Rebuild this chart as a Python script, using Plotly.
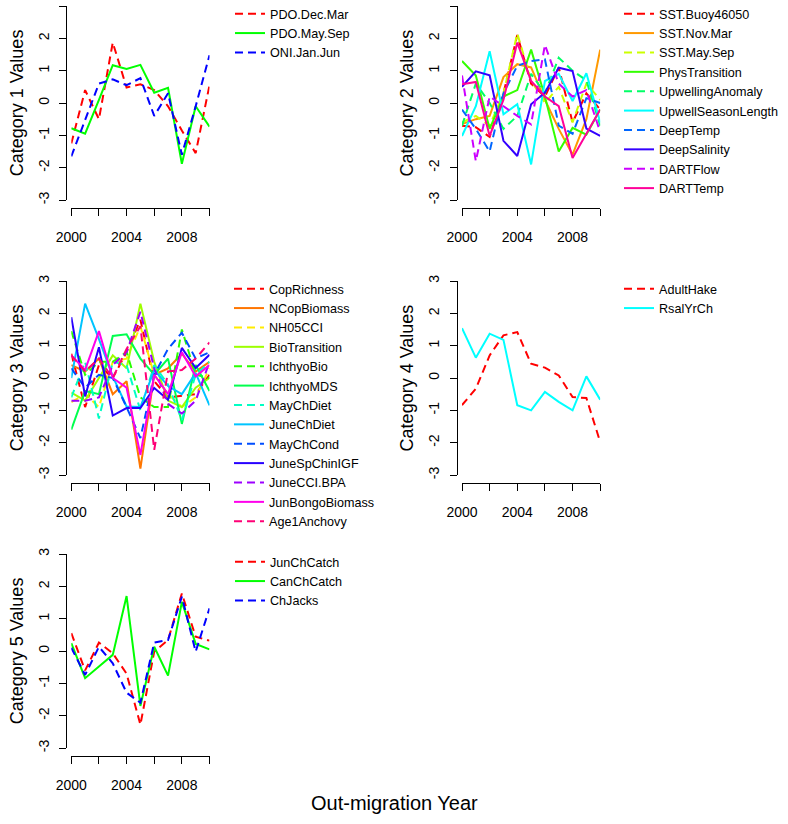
import plotly.graph_objects as go

years = list(range(2000, 2011))
x_tickvals = [2000, 2002, 2004, 2006, 2008, 2010]
x_ticktext = ["2000", "", "2004", "", "2008", ""]
y_tickvals = [-3, -2, -1, 0, 1, 2, 3]
y_ticktext = ["-3", "-2", "-1", "0", "1", "2", "3"]

# ---- Category 1 ----
cat1_names = ["PDO.Dec.Mar", "PDO.May.Sep", "ONI.Jan.Jun"]
pdo_dec_mar = [-1.25, 0.4, -0.5, 1.87, 0.48, 0.58, 0.4, -0.1, -0.85, -1.55, 0.55]
pdo_may_sep = [-0.78, -0.95, 0.1, 1.17, 1.05, 1.18, 0.32, 0.47, -1.88, -0.1, -0.73]
oni_jan_jun = [-1.65, -0.55, 0.6, 0.73, 0.55, 0.77, -0.4, 0.3, -1.6, -0.1, 1.48]
cat1_values = [pdo_dec_mar, pdo_may_sep, oni_jan_jun]
cat1_colors = ["#FF0000", "#00FF00", "#0000FF"]

# ---- Category 2 ----
cat2_names = ["SST.Buoy46050", "SST.Nov.Mar", "SST.May.Sep", "PhysTransition",
              "UpwellingAnomaly", "UpwellSeasonLength", "DeepTemp", "DeepSalinity",
              "DARTFlow", "DARTTemp"]
sst_buoy = [-0.7, -0.75, -1.05, 0.3, 2.1, 0.6, 0.2, 1.1, -0.6, 0.3, -0.2]
sst_nov_mar = [-0.65, -0.5, -0.4, 0.8, 1.2, 1.1, 0.1, -0.8, -1.6, -0.5, 1.65]
sst_may_sep = [-0.6, -0.4, -0.7, 0.3, 2.15, 0.7, 0.0, 0.5, -0.6, 0.6, 0.1]
phys_transition = [1.3, 0.85, -0.8, 0.2, 0.4, 1.65, 0.2, -1.5, -0.77, -0.98, -0.2]
upwelling_anomaly = [-0.7, 0.6, 0.0, -0.8, -0.4, 0.9, 0.3, 1.4, 1.0, 0.7, -0.7]
upwell_season_length = [-1.02, -0.1, 1.6, -0.35, -0.04, -1.9, 0.68, 0.9, 0.06, 0.92, -0.6]
deep_temp = [-0.2, -0.8, -1.5, 0.3, 1.15, 1.3, 1.35, -0.7, -0.95, 0.15, 0.0]
deep_salinity = [0.5, 0.98, 0.86, -1.17, -1.64, -0.04, 0.32, 1.09, 0.99, -0.79, -1.02]
dart_flow = [0.85, -1.8, 0.2, -0.1, -0.4, -0.66, 1.8, 0.6, 0.2, 0.4, -0.9]
dart_temp = [0.58, 0.65, -1.02, 0.1, 1.87, 0.68, 0.2, -0.1, -1.7, -0.97, -0.2]
cat2_values = [sst_buoy, sst_nov_mar, sst_may_sep, phys_transition, upwelling_anomaly,
               upwell_season_length, deep_temp, deep_salinity, dart_flow, dart_temp]
cat2_colors = ["#FF0000", "#FF9900", "#CCFF00", "#33FF00", "#00FF66",
               "#00FFFF", "#0066FF", "#3300FF", "#CC00FF", "#FF0099"]

# ---- Category 3 ----
cat3_names = ["CopRichness", "NCopBiomass", "NH05CCI", "BioTransition", "IchthyoBio",
              "IchthyoMDS", "MayChDiet", "JuneChDiet", "MayChCond", "JuneSpChinIGF",
              "JuneCCI.BPA", "JunBongoBiomass", "Age1Anchovy"]
cop_richness = [0.75, -0.9, 0.4, 0.0, 0.8, 1.8, -0.1, -0.6, -0.55, -0.5, 0.1]
ncop_biomass = [0.4, 0.2, 0.6, -0.5, -0.1, -2.8, 0.1, 0.3, 0.75, 0.2, 0.5]
nh05cci = [-0.75, -0.5, -0.9, 0.5, 0.6, 1.6, 0.1, -0.5, -0.9, -0.6, 0.3]
bio_transition = [-0.45, -0.7, 0.0, 0.7, 0.3, 2.3, 0.5, -0.7, -0.9, -0.3, 0.0]
ichthyo_bio = [1.45, 0.1, 0.5, 0.5, 0.8, -0.6, -0.9, -0.9, 1.5, 0.1, 0.0]
ichthyo_mds = [-1.6, -0.4, -0.5, 1.3, 1.35, 0.6, 0.1, 0.6, -1.42, 0.4, -0.4]
may_ch_diet = [-0.6, 0.5, -1.25, 0.5, 0.4, -1.0, 0.4, -0.2, -1.3, 0.1, 0.5]
june_ch_diet = [0.0, 2.3, 1.2, 0.05, -0.88, -0.9, 0.25, -0.25, -0.5, 0.15, -0.85]
may_ch_cond = [0.3, -0.3, 0.1, 0.0, -0.9, -1.86, 0.1, 0.9, 1.4, 0.6, 0.8]
june_sp_chin_igf = [1.88, -0.57, 0.95, -1.16, -0.93, -0.93, -0.31, -0.67, 0.93, 0.31, 0.72]
june_cci_bpa = [-0.7, -0.7, -0.6, 0.4, 0.8, 2.05, 0.3, -0.8, -1.1, -0.7, 0.5]
jun_bongo_biomass = [0.7, 0.25, 1.45, 0.0, -0.3, -2.38, 0.1, -0.5, 0.8, 0.05, 0.4]
age1_anchovy = [0.7, 0.2, 0.6, 0.0, 0.9, 1.6, -2.22, 0.2, 0.25, 0.6, 1.1]
cat3_values = [cop_richness, ncop_biomass, nh05cci, bio_transition, ichthyo_bio,
               ichthyo_mds, may_ch_diet, june_ch_diet, may_ch_cond, june_sp_chin_igf,
               june_cci_bpa, jun_bongo_biomass, age1_anchovy]
cat3_colors = ["#FF0000", "#FF7600", "#FFEC00", "#9DFF00", "#27FF00", "#00FF4E",
               "#00FFC4", "#00C4FF", "#004EFF", "#2700FF", "#9D00FF", "#FF00EC", "#FF0076"]

# ---- Category 4 ----
cat4_names = ["AdultHake", "RsalYrCh"]
adult_hake = [-0.84, -0.33, 0.7, 1.32, 1.42, 0.44, 0.32, 0.08, -0.59, -0.62, -1.98]
rsal_yr_ch = [1.54, 0.63, 1.37, 1.18, -0.84, -1.0, -0.43, -0.74, -1.0, 0.05, -0.67]
cat4_values = [adult_hake, rsal_yr_ch]
cat4_colors = ["#FF0000", "#00FFFF"]

# ---- Category 5 ----
cat5_names = ["JunChCatch", "CanChCatch", "ChJacks"]
jun_ch_catch = [0.55, -0.6, 0.26, -0.07, -0.7, -2.28, -0.02, 0.34, 1.78, 0.44, 0.32]
can_ch_catch = [0.24, -0.84, -0.48, -0.12, 1.7, -1.7, 0.13, -0.76, 1.52, 0.22, 0.05]
ch_jacks = [0.1, -0.74, 0.13, -0.38, -1.29, -1.6, 0.26, 0.34, 1.68, -0.02, 1.32]
cat5_values = [jun_ch_catch, can_ch_catch, ch_jacks]
cat5_colors = ["#FF0000", "#00FF00", "#0000FF"]

# ---------------- layout geometry (pixels) ----------------
W, H = 788, 824
FONT = "Liberation Sans, Arial, Helvetica, sans-serif"
rows = [(6, 200, 208), (281, 475, 483), (554, 748, 756)]      # y(3), y(-3), x-axis line
cols = [(71.3, 209.5, 66.3), (462, 600.2, 456.7)]              # x(2000), x(2010), y-axis line
legend_pos = [(230, -1), (619, -1), (229, 274), (619, 274), (230, 547)]

panels = [
    (0, 0, "Category 1 Values", cat1_names, cat1_values, cat1_colors),
    (0, 1, "Category 2 Values", cat2_names, cat2_values, cat2_colors),
    (1, 0, "Category 3 Values", cat3_names, cat3_values, cat3_colors),
    (1, 1, "Category 4 Values", cat4_names, cat4_values, cat4_colors),
    (2, 0, "Category 5 Values", cat5_names, cat5_values, cat5_colors),
]

fig = go.Figure()
layout = {}
for i, (r, c, title, names, values, colors) in enumerate(panels):
    k = "" if i == 0 else str(i + 1)
    ytop, ybot, xline = rows[r]
    x0, x1, yline = cols[c]
    leg = "legend" if i == 0 else f"legend{i + 1}"
    for j, (nm, vals, col) in enumerate(zip(names, values, colors)):
        fig.add_trace(go.Scatter(
            x=years, y=vals, name=nm, mode="lines",
            line=dict(color=col, width=2, dash="8px,5px" if j % 2 == 0 else "solid"),
            xaxis="x" + k, yaxis="y" + k, legend=leg,
        ))
    layout["xaxis" + k] = dict(
        domain=[x0 / W, x1 / W], range=[2000, 2010], anchor="free",
        position=1 - xline / H, showline=True, linecolor="#000", linewidth=1,
        ticks="outside", ticklen=7, tickcolor="#000", tickwidth=1,
        tickvals=x_tickvals, ticktext=x_ticktext, showgrid=False, zeroline=False,
        tickfont=dict(family=FONT, size=14, color="#000"), ticklabelstandoff=9,
    )
    layout["yaxis" + k] = dict(
        domain=[1 - ybot / H, 1 - ytop / H], range=[-3, 3], anchor="free",
        position=yline / W, showline=True, linecolor="#000", linewidth=1,
        ticks="outside", ticklen=7, tickcolor="#000", tickwidth=1,
        tickvals=y_tickvals, ticktext=y_ticktext, tickangle=-90,
        showgrid=False, zeroline=False,
        tickfont=dict(family=FONT, size=14, color="#000"), ticklabelstandoff=5,
        title=dict(text=title, font=dict(family=FONT, size=18, color="#000"), standoff=6),
    )
    lx, ly = legend_pos[i]
    layout[leg] = dict(
        x=lx / W, y=1 - ly / H, xanchor="left", yanchor="top",
        bgcolor="rgba(0,0,0,0)", borderwidth=0,
        font=dict(family=FONT, size=12.6, color="#000"),
    )

fig.update_layout(**layout)
fig.update_layout(
    width=W, height=H, margin=dict(l=0, r=0, t=0, b=0, autoexpand=False),
    paper_bgcolor="white", plot_bgcolor="white", showlegend=True,
    annotations=[dict(text="Out-migration Year", x=0.5, y=1 - 803 / H,
                      xref="paper", yref="paper", xanchor="center", yanchor="middle",
                      showarrow=False, font=dict(family=FONT, size=20, color="#000"))],
)
fig.write_html("out.html", config={"displayModeBar": False},
               post_script="document.body.style.margin='0';")
